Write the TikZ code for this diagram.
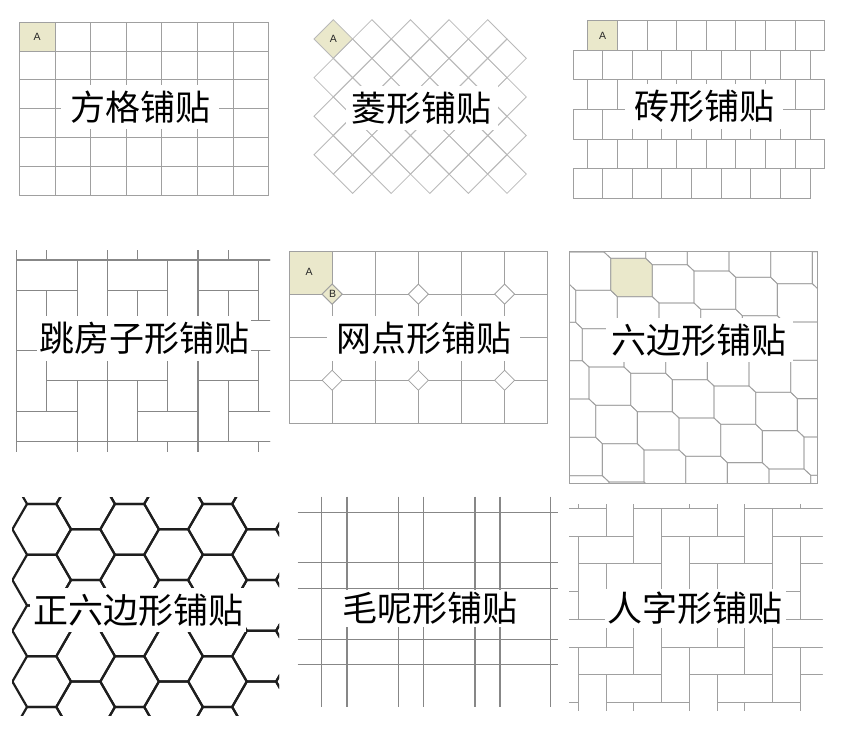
\documentclass[tikz,border=0pt]{standalone}
\usepackage{fontspec}
\newfontfamily\cjkfont{Noto Sans CJK SC}
\newfontfamily\tagfont{Liberation Sans}
\usetikzlibrary{positioning}
\definecolor{tileA}{RGB}{234,232,203}
\definecolor{jointgray}{RGB}{160,160,160}
\definecolor{jointlight}{RGB}{185,185,185}
\definecolor{jointdark}{RGB}{135,135,135}
\definecolor{hexblack}{RGB}{30,30,30}

\tikzset{
  joint/.style={draw=jointgray, line width=0.8pt},
  lightjoint/.style={draw=jointlight, line width=0.8pt},
  darkjoint/.style={draw=jointdark, line width=1.1pt},
  tweedline/.style={draw=jointdark, line width=1.2pt},
  hexjoint/.style={draw=hexblack, line width=2.2pt, line join=round},
  tilename/.style={fill=white, inner xsep=6pt, inner ysep=6pt,
    font=\cjkfont\fontsize{35}{35}\selectfont},
  tiletag/.style={inner sep=0pt, text=black!85,
    font=\tagfont\fontsize{10.5}{10.5}\selectfont},
  pinwheel/.pic={
    \draw[darkjoint] (0,0) rectangle (2,1) (2,0) rectangle (3,2)
      (0,1) rectangle (1,3) (1,1) rectangle (2,2) (1,2) rectangle (3,3);
  },
}

\begin{document}
\begin{tikzpicture}[x=1pt,y=-1pt]
\useasboundingbox (0,0) rectangle (859,742);

% square grid
\fill[tileA] (19.3,22.3) rectangle (54.93,51.08);
\foreach \i in {0,...,7}
  \draw[joint] ({19.3+35.63*\i},22.3) -- ({19.3+35.63*\i},195);
\foreach \j in {0,...,6}
  \draw[joint] (19.3,{22.3+28.78*\j}) -- (268.7,{22.3+28.78*\j});
\node[tiletag] (tagA1) at (37.1,36.7) {A};
\node[tilename, inner xsep=9pt] (square) at (140,107) {方格铺贴};

% rhombus
\fill[tileA] (314,39) -- (333.3,19.7) -- (352.6,39) -- (333.3,58.3) -- cycle;
\foreach \r in {0,...,7}
  \foreach \i in {0,...,4}
    \draw[lightjoint] ({333.3+38.6*\i+19.3*mod(\r,2)},{19.7+19.3*\r})
      -- ++(19.3,19.3) -- ++(-19.3,19.3) -- ++(-19.3,-19.3) -- cycle;
\node[tiletag] (tagA2) at (333.3,39) {A};
\node[tilename] (rhombus) at (421.7,108) {菱形铺贴};

% bricks
\fill[tileA] (587.7,20.7) rectangle ++(29.63,29.55);
\foreach \r in {0,...,5}
  \foreach \i in {0,...,7}
    \draw[joint] ({587.7-14.8*mod(\r,2)+29.63*\i},{20.7+29.55*\r}) rectangle ++(29.63,29.55);
\node[tiletag] (tagA3) at (602.5,35.5) {A};
\node[tilename, inner xsep=9pt] (brick) at (704,106.7) {砖形铺贴};

% hopscotch
\begin{scope}
  \clip (16,250) rectangle (270,451);
  \foreach \bx/\by in {0/-1,1/-1,2/-1,0/0,1/0,2/0,1/1,2/1,0/2,1/2,2/2}
    \pic[shift={({16.7+90.66*\bx},{260+90.66*\by})}, scale=30.22] {pinwheel};
  \pic[shift={(107.36,350.66)}, xscale=-30.22, yscale=30.22] {pinwheel};
\end{scope}
\node[tilename, inner xsep=2pt] (hopscotch) at (144,338.3) {跳房子形铺贴};

% dotted grid
\fill[tileA] (289,251) rectangle (332.12,294.08);
\foreach \i in {0,...,6}
  \draw[joint] ({289+43.12*\i},251) -- ({289+43.12*\i},423.3);
\foreach \j in {0,...,4}
  \draw[joint] (289,{251+43.08*\j}) -- (547.7,{251+43.08*\j});
\foreach \i in {1,3,5}
  \foreach \j in {1,3}
    \draw[joint, fill=white] ({289+43.12*\i},{251+43.08*\j-10})
      -- ++(10,10) -- ++(-10,10) -- ++(-10,-10) -- cycle;
\draw[joint, fill=tileA] (332.12,284.08) -- ++(10,10) -- ++(-10,10) -- ++(-10,-10) -- cycle;
\node[tiletag] (tagA5) at (309,272.3) {A};
\node[tiletag] (tagB5) at (332.7,293.8) {B};
\node[tilename, inner xsep=9pt] (dotted) at (423.8,338.3) {网点形铺贴};

% elongated hexagons
\begin{scope}
  \clip (569,251.7) rectangle (817.7,483.3);
  \fill[tileA] (610.67,258.33) -- ++(35,0) -- ++(6.67,6.33) -- ++(0,32)
    -- ++(-35,0) -- ++(-6.67,-6.33) -- cycle;
  \foreach \p in {-2,...,5}
    \foreach \q in {-2,...,6}
      \draw[joint] ({610.67+41.67*\p+6.67*\q},{258.33+6.33*\p+38.33*\q})
        -- ++(35,0) -- ++(6.67,6.33) -- ++(0,32) -- ++(-35,0) -- ++(-6.67,-6.33) -- cycle;
\end{scope}
\draw[joint] (569,251.7) rectangle (817.7,483.3);
\node[tilename] (hexagon) at (699,340) {六边形铺贴};

% regular hexagons
\begin{scope}
  \clip (12,497.3) rectangle (279,715);
  \foreach \k in {0,...,6}
    \foreach \m in {-1,...,4}
      \draw[hexjoint] ({41.7+43.95*\k},{529.3+50.75*\m+25.375*mod(\k,2)})
        +(0:29.3) -- +(60:29.3) -- +(120:29.3) -- +(180:29.3)
        -- +(240:29.3) -- +(300:29.3) -- cycle;
\end{scope}
\node[tilename, inner xsep=3pt] (reghex) at (138,610) {正六边形铺贴};

% tweed
\foreach \x in {321.7,347,398.3,423.7,475,500,550.7}
  \draw[tweedline] (\x,496.7) -- (\x,706.7);
\foreach \y in {512.3,562.7,588.3,639.3,664.3}
  \draw[tweedline] (297.7,\y) -- (557.7,\y);
\node[tilename, inner sep=2pt] (tweed) at (430,608.3) {毛呢形铺贴};

% herringbone
\begin{scope}
  \clip (569,504) rectangle (822.7,710);
  \foreach \b in {-2,...,5}
    \foreach \a in {-7,...,8} {
      \draw[joint] ({578.33+27.75*(\a+2*\b)},{508.33+27.75*(5+\a-2*\b)}) rectangle ++(55.5,27.75);
      \draw[joint] ({578.33+27.75*(\a+2*\b)},{508.33+27.75*(6+\a-2*\b)}) rectangle ++(27.75,55.5);
    }
\end{scope}
\node[tilename, inner sep=3pt] (herring) at (695,608.3) {人字形铺贴};
\end{tikzpicture}
\end{document}
